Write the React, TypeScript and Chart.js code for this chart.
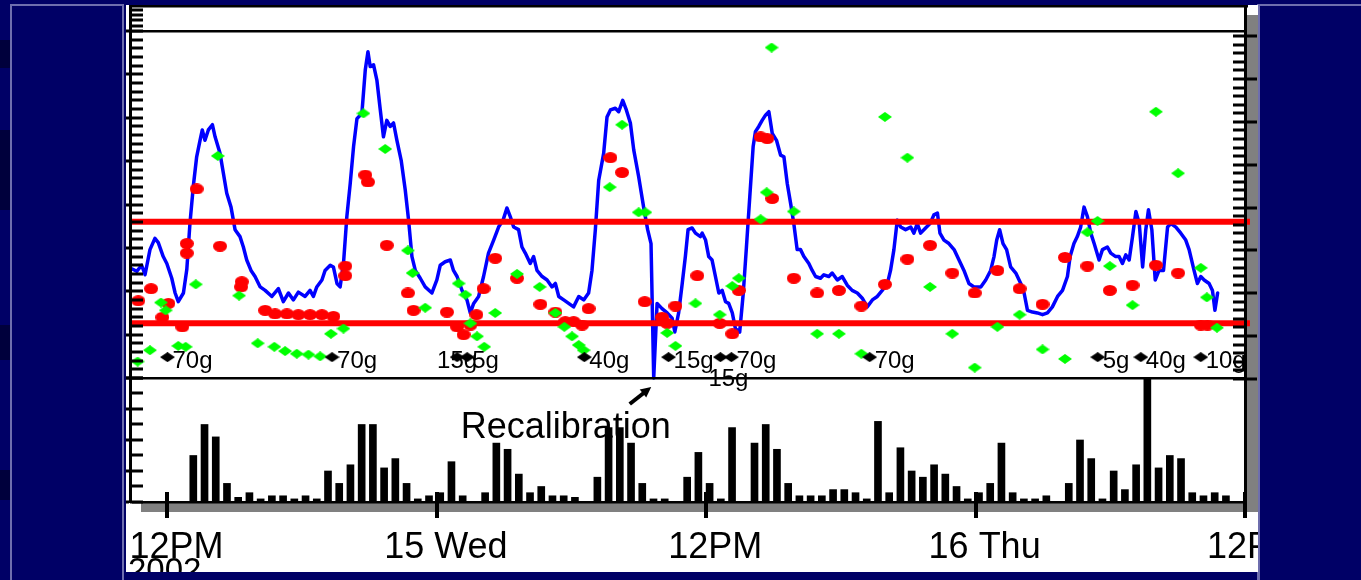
import React, { useEffect, useRef } from 'react';
import { Chart, registerables } from 'chart.js';

Chart.register(...registerables);

// ---------------- data ----------------
const xTickHours = [12, 24, 36, 48, 60];
const xTickLabels = ['12PM', '15 Wed', '12PM', '16 Thu', '12PM'];
const xMin = 10.33;
const xMax = 60;
const yearLabel = '2002';

// continuous sensor glucose (hours from 14th 00:00, mg/dL)
const sensorGlucose: [number, number][] = [
  [10.41,126],[10.63,123],[10.85,130],[11.0,119],[11.22,148],[11.44,161],[11.59,156],[11.81,140],[11.97,132],[12.19,115],
  [12.34,98],[12.48,88],[12.71,98],[12.86,125],[13.0,178],[13.15,221],[13.30,255],[13.45,274],[13.55,286],[13.67,274],
  [13.82,286],[14.0,292],[14.12,278],[14.34,259],[14.49,236],[14.64,213],[14.83,197],[15.01,171],[15.23,163],[15.38,151],
  [15.53,136],[15.72,124],[15.90,117],[16.13,105],[16.35,101],[16.65,94],[16.94,103],[17.16,88],[17.39,98],[17.61,90],
  [17.83,99],[18.13,94],[18.35,101],[18.50,94],[18.65,105],[18.88,113],[19.02,124],[19.25,130],[19.39,128],[19.55,109],
  [19.69,105],[19.84,132],[19.99,186],[20.14,224],[20.29,267],[20.44,299],[20.66,305],[20.81,355],[20.93,376],[21.03,359],
  [21.18,361],[21.33,343],[21.48,309],[21.62,278],[21.77,297],[21.92,290],[22.07,294],[22.22,274],[22.41,251],[22.59,217],
  [22.74,182],[22.89,140],[23.04,124],[23.26,115],[23.48,105],[23.78,98],[24.0,113],[24.15,130],[24.37,134],[24.60,136],
  [24.74,124],[24.90,117],[25.12,101],[25.34,90],[25.49,75],[25.64,86],[25.86,94],[26.08,117],[26.30,144],[26.53,159],
  [26.75,174],[26.95,182],[27.12,196],[27.27,186],[27.42,174],[27.64,171],[27.79,151],[27.94,144],[28.16,132],[28.31,140],
  [28.46,124],[28.69,117],[28.91,113],[29.13,105],[29.28,109],[29.43,94],[29.65,90],[29.87,86],[30.09,82],[30.32,94],
  [30.54,90],[30.76,98],[30.91,124],[31.06,171],[31.21,228],[31.43,259],[31.58,301],[31.73,309],[31.95,311],[32.10,307],
  [32.28,320],[32.44,309],[32.62,294],[32.77,263],[32.99,232],[33.21,197],[33.39,171],[33.54,155],[33.66,0],[33.81,86],
  [34.03,80],[34.26,75],[34.48,69],[34.60,53],[34.77,75],[34.93,109],[35.07,140],[35.19,171],[35.37,173],[35.52,167],
  [35.74,163],[35.82,167],[35.97,159],[36.11,140],[36.26,136],[36.41,117],[36.56,98],[36.71,101],[36.86,88],[37.0,86],
  [37.16,75],[37.30,57],[37.49,53],[37.65,98],[37.79,151],[37.94,209],[38.09,267],[38.19,284],[38.34,290],[38.49,297],
  [38.64,303],[38.79,307],[38.94,282],[39.13,274],[39.31,257],[39.46,255],[39.61,224],[39.76,201],[39.90,178],[40.05,148],
  [40.20,148],[40.35,140],[40.57,132],[40.72,124],[40.87,117],[41.09,115],[41.24,119],[41.46,117],[41.61,121],[41.84,113],
  [42.06,117],[42.28,107],[42.50,101],[42.73,98],[42.95,92],[43.17,82],[43.40,90],[43.62,94],[43.84,101],[44.07,109],
  [44.21,124],[44.36,148],[44.51,182],[44.66,174],[44.88,171],[45.11,174],[45.25,167],[45.40,178],[45.55,167],[45.77,173],
  [45.97,178],[46.14,188],[46.30,190],[46.41,167],[46.59,159],[46.81,155],[47.04,148],[47.26,136],[47.48,124],[47.70,109],
  [47.93,105],[48.23,105],[48.45,113],[48.67,124],[48.82,140],[48.94,159],[49.07,171],[49.22,155],[49.38,148],[49.56,128],
  [49.79,121],[50.01,109],[50.16,98],[50.31,78],[50.53,76],[50.75,75],[50.98,73],[51.20,75],[51.42,82],[51.65,94],
  [51.87,101],[52.09,117],[52.21,140],[52.38,155],[52.53,163],[52.68,174],[52.83,197],[52.98,186],[53.13,167],[53.28,155],
  [53.50,136],[53.65,148],[53.87,151],[54.02,144],[54.24,140],[54.39,140],[54.54,132],[54.69,142],[54.84,136],[54.99,163],
  [55.14,192],[55.29,178],[55.44,128],[55.58,171],[55.70,194],[55.85,171],[56.0,113],[56.17,124],[56.37,124],[56.55,174],
  [56.70,178],[56.92,174],[57.14,167],[57.36,159],[57.51,148],[57.73,124],[57.88,109],[58.03,117],[58.18,113],[58.40,109],
  [58.55,101],[58.66,78],[58.78,98],
];

// fingerstick meter readings (red)
const meterGlucose: [number, number][] = [
  [10.70,89],[11.27,103],[11.77,70],[12.04,86],[12.66,59],[12.86,155],[12.86,144],[13.30,218],[14.34,152],[15.31,111],
  [15.28,105],[16.35,78],[16.79,74],[17.32,74],[17.83,73],[18.35,73],[18.88,73],[19.39,71],[19.92,129],[19.92,118],
  [20.81,234],[20.93,226],[21.77,153],[22.71,98],[22.96,78],[24.45,76],[24.90,59],[25.19,50],[25.49,61],[25.76,73],
  [26.08,103],[26.60,138],[27.57,115],[28.61,85],[29.28,76],[29.72,65],[30.09,65],[30.47,61],[30.76,80],[31.73,254],
  [32.25,237],[33.26,88],[34.03,70],[34.26,63],[34.63,83],[35.60,118],[36.60,63],[37.16,51],[37.45,101],[38.42,278],
  [38.72,276],[38.94,207],[39.90,115],[40.94,98],[41.91,101],[42.91,83],[43.96,108],[44.96,137],[45.97,153],[46.96,121],
  [47.96,98],[48.97,124],[49.96,103],[50.98,85],[51.98,139],[52.98,129],[53.98,101],[54.99,107],[56.03,130],[57.02,121],
  [58.03,61],[58.33,61],
];

// second estimate (green diamonds)
const estimateGlucose: [number, number][] = [
  [10.67,19],[11.22,32],[11.71,87],[11.92,78],[12.48,37],[12.81,36],[13.26,108],[14.24,256],[15.19,95],[16.02,40],
  [16.76,36],[17.24,31],[17.76,28],[18.28,27],[18.80,25],[19.28,51],[19.84,57],[20.73,305],[21.70,264],[22.71,147],
  [22.92,121],[23.48,81],[24.97,109],[25.27,96],[25.49,63],[25.79,48],[26.11,36],[26.60,75],[27.57,120],[28.58,105],
  [29.28,75],[29.68,59],[30.02,48],[30.32,38],[30.54,32],[31.70,220],[32.25,292],[32.99,191],[33.29,191],[34.26,52],
  [34.63,37],[35.52,86],[36.60,73],[37.16,106],[37.45,115],[38.42,183],[38.69,214],[38.91,381],[39.90,192],[40.94,51],
  [41.91,51],[42.91,28],[43.96,301],[44.96,254],[45.97,105],[46.96,51],[47.96,12],[48.97,59],[49.96,73],[50.98,33],
  [51.98,22],[52.98,168],[53.43,181],[53.98,129],[54.99,84],[56.03,307],[57.02,236],[58.03,127],[58.30,93],[58.75,58],
];

const mealTimes = [12.0, 19.33, 24.9, 25.35, 30.57, 34.32, 36.63, 37.12, 43.28, 53.44, 55.36, 58.03];
const mealCarbs = ['70g', '70g', '15g', '5g', '40g', '15g', '15g', '70g', '70g', '5g', '40g', '10g'];
const mealMarkerLevel = 24;

const lowLimit = 63;
const highLimit = 180;
const limitEnd = 60.22;

const activityStart = 13.15;
const activityStep = 0.5;
const activityValues = [
  3.0,5.0,4.2,1.2,0.3,0.6,0.2,0.4,0.4,0.2,
  0.4,0.2,2.0,1.2,2.4,5.0,5.0,2.2,2.8,1.2,
  0.2,0.4,0.6,2.6,0.4,0,0.6,3.8,3.4,1.8,
  0.6,1.0,0.4,0.4,0.3,0,1.6,4.8,4.8,3.8,
  1.2,0.2,0.2,0,1.6,3.2,1.2,0.2,4.8,0,
  3.8,5.0,3.4,1.2,0.4,0.4,0.4,0.8,0.8,0.6,
  0.2,5.2,0.6,3.5,2.0,1.6,2.4,1.8,1.0,0.2,
  0.6,1.2,3.8,0.6,0.2,0.2,0.4,0,1.2,4.0,
  2.8,0.2,2.0,0.8,2.4,8.0,2.2,3.0,2.8,0.6,
  0.4,0.6,0.4,
];

const recalibrationTime = 33.66;
const recalibrationLabel = 'Recalibration';

// ---------------- helpers ----------------
const FONT = '"Liberation Sans", Arial, Helvetica, sans-serif';

function makeMarker(w: number, h: number, color: string, shape: 'ellipse' | 'diamond') {
  const c = document.createElement('canvas');
  c.width = w;
  c.height = h;
  const g = c.getContext('2d')!;
  g.fillStyle = color;
  g.beginPath();
  if (shape === 'ellipse') {
    g.ellipse(w / 2, h / 2, w / 2, h / 2, 0, 0, Math.PI * 2);
  } else {
    g.moveTo(w / 2, 0);
    g.lineTo(w, h / 2);
    g.lineTo(w / 2, h);
    g.lineTo(0, h / 2);
    g.closePath();
  }
  g.fill();
  return c;
}

const labelPlacement: Record<number, string> = { 2: 'center', 6: 'below' };

const decorPlugin = {
  id: 'decor',
  beforeDraw(chart: any) {
    const { ctx, chartArea: ca, width, height } = chart;
    ctx.save();
    ctx.fillStyle = '#ffffff';
    ctx.fillRect(0, 0, width, height);
    ctx.fillStyle = '#808080';
    ctx.fillRect(ca.left + 11, ca.top + 10, ca.right - ca.left + 2, ca.bottom - ca.top);
    ctx.fillStyle = '#ffffff';
    ctx.fillRect(ca.left, ca.top, ca.right - ca.left + 2, ca.bottom - ca.top);
    ctx.restore();
  },
  afterDatasetsDraw(chart: any) {
    const { ctx, chartArea: ca, scales } = chart;
    const xs = scales.x;
    const ys = scales.y;
    const yb = scales.yb;
    const w = ca.right - ca.left;
    ctx.save();
    ctx.fillStyle = '#000';
    // frame
    ctx.fillRect(ca.left - 1, ca.top, w + 4, 2.5);
    ctx.fillRect(ca.left - 1, ca.top, 3, ca.bottom - ca.top + 1);
    ctx.fillRect(ca.right - 1, ca.top, 3, ca.bottom - ca.top + 16);
    ctx.fillRect(ca.left, ca.bottom - 1, w + 2, 2.5);
    [0, 400].forEach((v) => {
      const y = Math.round(ys.getPixelForValue(v));
      ctx.fillRect(ca.left, y - 1, w, 2.5);
    });
    // left glucose ticks
    for (let v = 0; v <= 400; v += 10) {
      const y = Math.round(ys.getPixelForValue(v));
      ctx.fillRect(ca.left + 2, y - 1.5, 11, 3);
      if (v % 50 === 0) ctx.fillRect(ca.left - 4, y - 1.5, 3, 3);
    }
    for (let v = 406.2; ; v += 6.2) {
      const y = Math.round(ys.getPixelForValue(v));
      if (y < ca.top + 3) break;
      ctx.fillRect(ca.left + 2, y - 1.5, 11, 3);
    }
    // left activity ticks
    for (let u = 0; u <= 8; u++) {
      const y = Math.round(yb.getPixelForValue(u));
      ctx.fillRect(ca.left + 2, y - 1.5, 11, 3);
      if (u % 2 === 0) ctx.fillRect(ca.left - 4, y - 1.5, 3, 3);
    }
    // right ticks
    for (let k = 0; k <= 40; k++) {
      const v = 394 - k * 9.875;
      const y = Math.round(ys.getPixelForValue(v));
      ctx.fillRect(ca.right - 12, y - 1.5, 11, 3);
      if (k % 5 === 0) ctx.fillRect(ca.right + 2, y - 1.5, 10, 3);
    }
    // x ticks
    xTickHours.forEach((h) => {
      const x = Math.round(xs.getPixelForValue(h));
      ctx.fillRect(x - 2, ca.bottom - 10, 4, 26);
    });
    // meal labels
    ctx.font = `24px ${FONT}`;
    ctx.textBaseline = 'alphabetic';
    mealTimes.forEach((t, i) => {
      const px = xs.getPixelForValue(t);
      const py = ys.getPixelForValue(mealMarkerLevel);
      const p = labelPlacement[i];
      if (p === 'center') {
        ctx.textAlign = 'center';
        ctx.fillText(mealCarbs[i], px, py + 11);
      } else if (p === 'below') {
        ctx.textAlign = 'left';
        ctx.fillText(mealCarbs[i], px - 12, py + 29);
      } else {
        ctx.textAlign = 'left';
        ctx.fillText(mealCarbs[i], px + 5, py + 11);
      }
    });
    // recalibration annotation
    const rx = xs.getPixelForValue(recalibrationTime);
    const ry = ys.getPixelForValue(0);
    ctx.strokeStyle = '#000';
    ctx.lineWidth = 4;
    ctx.beginPath();
    ctx.moveTo(rx - 24, ry + 26);
    ctx.lineTo(rx - 10, ry + 15);
    ctx.stroke();
    ctx.beginPath();
    ctx.moveTo(rx - 2.5, ry + 9);
    ctx.lineTo(rx - 7.5, ry + 19.5);
    ctx.lineTo(rx - 14, ry + 11.5);
    ctx.closePath();
    ctx.fill();
    ctx.font = `36px ${FONT}`;
    ctx.textAlign = 'left';
    ctx.fillText(recalibrationLabel, rx - 193, ry + 60);
    // year
    ctx.font = `33px ${FONT}`;
    ctx.fillText(yearLabel, 2, ca.bottom + 79);
    ctx.restore();
  },
};

export default function App() {
  const ref = useRef<HTMLCanvasElement | null>(null);

  useEffect(() => {
    if (!ref.current) return;
    const redDot = makeMarker(14, 11, '#ff0000', 'ellipse');
    const greenDiamond = makeMarker(14, 10, '#00ff00', 'diamond');
    const blackDiamond = makeMarker(15, 10, '#000000', 'diamond');

    const chart = new Chart(ref.current, {
      type: 'line',
      data: {
        datasets: [
          {
            type: 'bar',
            data: activityValues.map((v, i) => ({ x: activityStart + i * activityStep, y: v })),
            xAxisID: 'x',
            yAxisID: 'yb',
            backgroundColor: '#000000',
            borderWidth: 0,
            barThickness: 7,
            order: 7,
          } as any,
          {
            type: 'line',
            data: sensorGlucose.map(([x, y]) => ({ x, y })),
            yAxisID: 'y',
            borderColor: '#0000ff',
            borderWidth: 3.5,
            borderJoinStyle: 'round',
            borderCapStyle: 'round',
            pointRadius: 0,
            tension: 0,
            order: 6,
          },
          {
            type: 'line',
            data: [{ x: xMin, y: highLimit }, { x: limitEnd, y: highLimit }],
            yAxisID: 'y',
            borderColor: '#ff0000',
            borderWidth: 6,
            pointRadius: 0,
            clip: false as any,
            order: 5,
          },
          {
            type: 'line',
            data: [{ x: xMin, y: lowLimit }, { x: limitEnd, y: lowLimit }],
            yAxisID: 'y',
            borderColor: '#ff0000',
            borderWidth: 6,
            pointRadius: 0,
            clip: false as any,
            order: 5,
          },
          {
            type: 'line',
            data: meterGlucose.map(([x, y]) => ({ x, y })),
            yAxisID: 'y',
            showLine: false,
            pointStyle: redDot as any,
            pointRadius: 5,
            order: 4,
          },
          {
            type: 'line',
            data: estimateGlucose.map(([x, y]) => ({ x, y })),
            yAxisID: 'y',
            showLine: false,
            pointStyle: greenDiamond as any,
            pointRadius: 5,
            order: 3,
          },
          {
            type: 'line',
            data: mealTimes.map((x) => ({ x, y: mealMarkerLevel })),
            yAxisID: 'y',
            showLine: false,
            pointStyle: blackDiamond as any,
            pointRadius: 5,
            order: 2,
          },
        ],
      },
      options: {
        animation: false,
        responsive: false,
        maintainAspectRatio: false,
        events: [],
        layout: { autoPadding: false, padding: { left: 4, right: 13, top: 0, bottom: 0 } },
        plugins: { legend: { display: false }, tooltip: { enabled: false } },
        scales: {
          x: {
            type: 'linear',
            min: xMin,
            max: xMax,
            offset: false,
            grid: { display: false, drawTicks: false },
            border: { display: false },
            afterBuildTicks: (s: any) => {
              s.ticks = xTickHours.map((v) => ({ value: v }));
            },
            afterFit: (s: any) => {
              s.height = 70;
              s.paddingLeft = 0;
              s.paddingRight = 0;
            },
            ticks: {
              autoSkip: false,
              maxRotation: 0,
              minRotation: 0,
              padding: 24,
              labelOffset: 9,
              color: '#000000',
              font: { family: FONT, size: 36 },
              callback: (_v: any, i: number) => xTickLabels[i],
            },
          },
          y: { type: 'linear', display: false, min: -142.94, max: 430 },
          yb: { type: 'linear', display: false, min: 0, max: 32.06 },
        },
      } as any,
      plugins: [decorPlugin],
    });
    return () => chart.destroy();
  }, []);

  const slate = '#6e6eae';
  return (
    <div style={{ position: 'fixed', left: 0, top: 0, width: 1361, height: 580, background: '#000066', overflow: 'hidden' }}>
      <div style={{ position: 'absolute', left: 0, top: 40, width: 10, height: 28, background: '#00003c' }} />
      <div style={{ position: 'absolute', left: 0, top: 130, width: 10, height: 80, background: '#00003c' }} />
      <div style={{ position: 'absolute', left: 0, top: 325, width: 10, height: 35, background: '#00003c' }} />
      <div style={{ position: 'absolute', left: 0, top: 470, width: 10, height: 30, background: '#00003c' }} />
      <div style={{ position: 'absolute', left: 10, top: 4, width: 114, height: 600, boxSizing: 'border-box', borderLeft: `2px solid ${slate}`, borderTop: `2px solid ${slate}`, borderRight: `2px solid ${slate}`, background: '#000066' }} />
      <div style={{ position: 'absolute', left: 1257, top: 4, width: 120, height: 600, boxSizing: 'border-box', borderLeft: `3px solid ${slate}`, borderTop: `2px solid ${slate}`, background: '#000066' }} />
      <div style={{ position: 'absolute', left: 126, top: 5, width: 1132, height: 567, background: '#ffffff' }}>
        <canvas ref={ref} width={1132} height={567} style={{ display: 'block', width: 1132, height: 567 }} />
      </div>
    </div>
  );
}
